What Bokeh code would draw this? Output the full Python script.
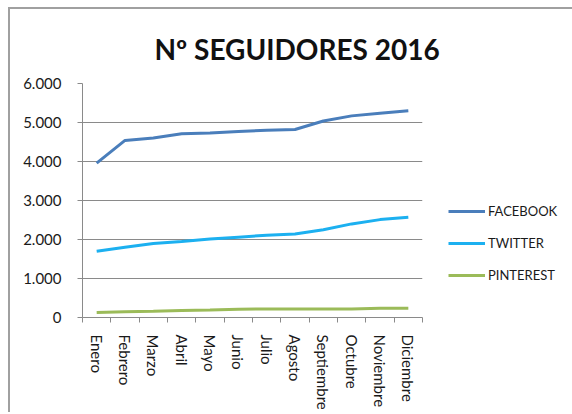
from bokeh.plotting import figure
from bokeh.models import Range1d, FixedTicker, Title, Legend, LegendItem
from bokeh.embed import file_html
from bokeh.resources import INLINE

# ---- data ----
months = ["Enero", "Febrero", "Marzo", "Abril", "Mayo", "Junio", "Julio",
          "Agosto", "Septiembre", "Octubre", "Noviembre", "Diciembre"]
facebook = [3960, 4540, 4600, 4710, 4730, 4770, 4800, 4820, 5040, 5170, 5240, 5300]
twitter = [1700, 1800, 1900, 1950, 2010, 2060, 2110, 2140, 2250, 2400, 2510, 2570]
pinterest = [130, 150, 160, 180, 190, 210, 220, 220, 220, 220, 240, 240]
y_ticks = [0, 1000, 2000, 3000, 4000, 5000, 6000]
y_tick_labels = ["0", "1.000", "2.000", "3.000", "4.000", "5.000", "6.000"]
title_text = "Nº SEGUIDORES 2016"
series_names = ["FACEBOOK", "TWITTER", "PINTEREST"]
series_colors = ["#4A7EBB", "#1CB0F0", "#9BBB59"]

FONT = "Lato"
GRID = "#8a8a8a"

n = len(months)
xs = [i + 0.5 for i in range(n)]

p = figure(output_backend="svg", toolbar_location=None,
           frame_width=340, frame_height=234,
           min_border_left=72, min_border_right=140,
           min_border_top=74, min_border_bottom=90,
           x_range=Range1d(0, n), y_range=Range1d(0, 6000),
           background_fill_color="white", border_fill_color="white")
p.styles = {"margin-left": "8px", "margin-top": "7px",
            "border-left": "2px solid #a0a0a0", "border-top": "2px solid #a0a0a0"}
p.outline_line_color = None

# axes
p.xaxis.ticker = FixedTicker(ticks=xs, minor_ticks=list(range(n + 1)))
p.xaxis.major_label_overrides = {x: m for x, m in zip(xs, months)}
p.xaxis.major_label_orientation = "vertical"
p.xaxis.major_tick_out = 0
p.xaxis.major_tick_in = 0
p.xaxis.minor_tick_out = 5
p.xaxis.minor_tick_in = 0
p.xaxis.minor_tick_line_color = GRID
p.xaxis.major_label_standoff = 12

p.yaxis.ticker = FixedTicker(ticks=y_ticks)
p.yaxis.major_label_overrides = {t: l for t, l in zip(y_ticks, y_tick_labels)}
p.yaxis.major_tick_out = 5
p.yaxis.major_tick_in = 0
p.yaxis.minor_tick_line_color = None
p.yaxis.major_label_standoff = 16

for ax in (p.xaxis, p.yaxis):
    ax.axis_line_color = GRID
    ax.major_tick_line_color = GRID
    ax.major_label_text_font = FONT
    ax.major_label_text_font_size = "15px"
    ax.major_label_text_color = "#1a1a1a"

p.xgrid.grid_line_color = None
p.ygrid.grid_line_color = GRID
p.ygrid.ticker = FixedTicker(ticks=y_ticks)

# lines
renderers = []
for vals, col in zip([facebook, twitter, pinterest], series_colors):
    r = p.line(xs, vals, line_color=col, line_width=3)
    renderers.append(r)

legend = Legend(items=[LegendItem(label=nm, renderers=[r])
                       for nm, r in zip(series_names, renderers)],
                location=(26, 34), padding=0, margin=0,
                glyph_width=37, glyph_height=16, label_height=16,
                label_standoff=3, spacing=16,
                border_line_color=None, background_fill_alpha=0,
                label_text_font=FONT, label_text_font_size="13px",
                label_text_color="#1a1a1a")
p.add_layout(legend, "right")

title = Title(text=title_text, align="left", offset=72, standoff=36,
              text_font=FONT, text_font_style="bold", text_font_size="28px",
              text_color="#111111")
p.add_layout(title, "above")

open("out.html", "w").write(file_html(p, INLINE))
